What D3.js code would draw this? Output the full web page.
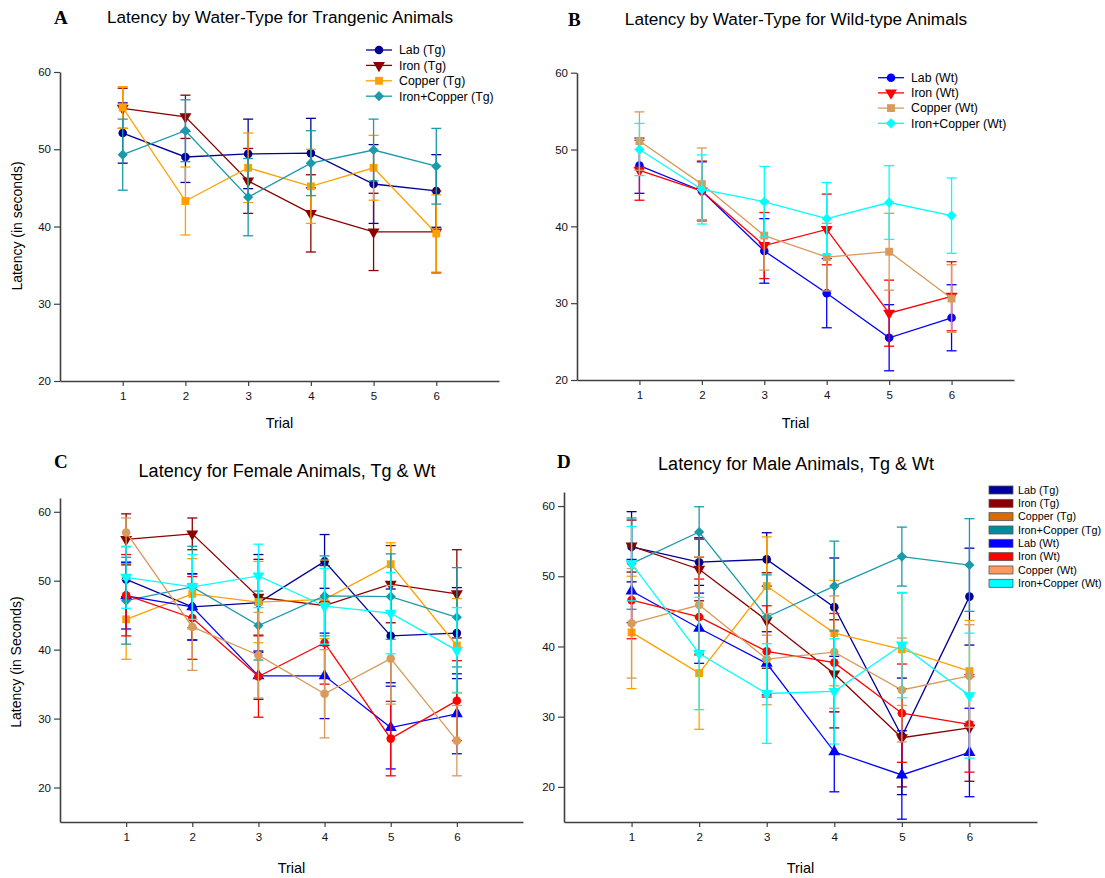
<!DOCTYPE html>
<html>
<head>
<meta charset="utf-8">
<script src="https://cdn.jsdelivr.net/npm/d3@7"></script>
<style>
  body { margin: 0; background: #fff; }
  svg text { font-family: "Liberation Sans", Arial, sans-serif; }
</style>
</head>
<body>
<div id="screen"></div>
<script>
var width = 1105;
var height = 878;

var trials = [1, 2, 3, 4, 5, 6];
var yTicks = [20, 30, 40, 50, 60];

// panel A - transgenic
var labTgA = [52.1, 49.0, 49.4, 49.5, 45.5, 44.6];
var labTgAErr = [3.9, 3.3, 4.5, 4.5, 5.1, 4.7];
var ironTgA = [55.3, 54.2, 45.9, 41.7, 39.3, 39.3];
var ironTgAErr = [2.6, 2.8, 4.2, 5.0, 5.0, 5.3];
var copperTgA = [55.4, 43.3, 47.6, 45.2, 47.6, 39.1];
var copperTgAErr = [2.7, 4.4, 4.5, 4.8, 4.2, 5.0];
var ironCopperTgA = [49.3, 52.4, 43.8, 48.2, 49.9, 47.8];
var ironCopperTgAErr = [4.6, 4.0, 5.0, 4.2, 4.0, 4.9];

// panel B - wild type
var labWtB = [47.9, 44.6, 36.8, 31.3, 25.5, 28.1];
var labWtBErr = [3.6, 3.8, 4.2, 4.5, 4.3, 4.3];
var ironWtB = [47.3, 44.6, 37.5, 39.6, 28.7, 30.9];
var ironWtBErr = [3.9, 3.9, 4.3, 4.6, 4.3, 4.5];
var copperWtB = [51.1, 45.5, 38.8, 36.0, 36.7, 30.6];
var copperWtBErr = [3.8, 4.7, 4.5, 4.4, 5.0, 4.4];
var ironCopperWtB = [50.0, 44.8, 43.2, 41.0, 43.1, 41.4];
var ironCopperWtBErr = [3.4, 4.5, 4.6, 4.7, 4.8, 4.9];

// panel C - female
var labTgC = [50.2, 46.2, 46.8, 52.8, 42.0, 42.4];
var labTgCErr = [2.5, 4.8, 7.0, 3.9, 6.8, 6.6];
var ironTgC = [56.0, 56.8, 47.6, 46.4, 49.5, 48.1];
var ironTgCErr = [3.7, 2.3, 5.5, 5.8, 5.6, 6.4];
var copperTgC = [44.4, 48.1, 46.9, 47.3, 52.4, 40.6];
var copperTgCErr = [5.8, 5.1, 5.9, 5.7, 3.1, 6.8];
var ironCopperTgC = [47.1, 49.1, 43.5, 47.8, 47.7, 44.7];
var ironCopperTgCErr = [6.3, 5.9, 5.0, 5.8, 6.2, 7.2];
var labWtC = [47.8, 46.2, 36.2, 36.2, 28.7, 30.7];
var labWtCErr = [4.8, 4.8, 3.4, 6.2, 6.0, 5.8];
var ironWtC = [47.9, 44.6, 36.1, 41.0, 27.1, 32.6];
var ironWtCErr = [5.9, 6.0, 5.9, 6.0, 5.4, 5.8];
var copperWtC = [57.0, 43.3, 39.2, 33.6, 38.7, 26.8];
var copperWtCErr = [2.1, 6.3, 6.2, 6.4, 6.6, 5.1];
var ironCopperWtC = [50.5, 49.1, 50.7, 46.3, 45.3, 39.9];
var ironCopperWtCErr = [4.5, 4.7, 4.6, 5.5, 5.9, 6.2];

// panel D - male
var labTgD = [54.2, 52.0, 52.4, 45.6, 27.2, 47.1];
var labTgDErr = [5.0, 3.3, 3.8, 7.0, 8.3, 6.9];
var ironTgD = [54.3, 51.0, 43.7, 36.1, 27.0, 28.4];
var ironTgDErr = [3.7, 4.5, 6.8, 7.7, 7.0, 7.6];
var copperTgD = [42.0, 36.2, 48.6, 41.9, 39.6, 36.5];
var copperTgDErr = [8.0, 8.0, 7.0, 7.5, 8.0, 7.2];
var ironCopperTgD = [51.8, 56.3, 44.2, 48.6, 52.8, 51.6];
var ironCopperTgDErr = [6.5, 3.6, 6.0, 6.4, 4.2, 6.6];
var labWtD = [47.9, 42.6, 37.6, 25.0, 21.7, 24.9];
var labWtDErr = [4.5, 5.0, 4.5, 5.7, 6.3, 6.3];
var ironWtD = [46.6, 44.2, 39.3, 37.7, 30.5, 28.9];
var ironWtDErr = [5.5, 5.4, 6.5, 7.0, 7.0, 6.8];
var copperWtD = [43.3, 45.9, 38.2, 39.2, 33.8, 35.8];
var copperWtDErr = [7.8, 6.9, 6.5, 8.0, 7.4, 7.3];
var ironCopperWtD = [51.8, 39.0, 33.3, 33.6, 40.2, 33.0];
var ironCopperWtDErr = [5.3, 8.0, 7.1, 7.5, 7.5, 8.9];

var legendNamesD = ["Lab (Tg)", "Iron (Tg)", "Copper (Tg)", "Iron+Copper (Tg)",
                    "Lab (Wt)", "Iron (Wt)", "Copper (Wt)", "Iron+Copper (Wt)"];
var legendFillsD = ["#00009c", "#8b0000", "#d86c00", "#008c9c",
                    "#0000ff", "#ff0000", "#ff9a5c", "#00ffff"];

// styles
var col = {
  labTg: "#000099", ironTg: "#8b0000", copperTg: "#ffa000", icTg: "#1a9aab",
  labWt: "#0000ff", ironWt: "#ff0000", copperWt: "#d99a5b", icWt: "#00ffff"
};

var svg = d3.select("#screen").append("svg")
  .attr("width", width).attr("height", height);

var symbolPath = function(shape){
  if(shape == "circle") return d3.symbol().type(d3.symbolCircle).size(58)();
  if(shape == "square") return d3.symbol().type(d3.symbolSquare).size(62)();
  if(shape == "diamond") return d3.symbol().type(d3.symbolSquare).size(52)();
  return d3.symbol().type(d3.symbolTriangle).size(62)();
};
var symbolRotate = function(shape){
  if(shape == "down") return 180;
  if(shape == "diamond") return 45;
  return 0;
};

var drawPanel = function(p){
  var g = svg.append("g");
  var x = d3.scaleLinear().domain([0, 7]).range([p.left, p.right]);
  var y = d3.scaleLinear().domain(p.yDomain).range([p.bottom, p.top]);

  var xAxis = d3.axisBottom(x).tickValues(trials).tickFormat(d3.format("d"))
    .tickSize(5).tickSizeOuter(0).tickPadding(6);
  var xa = g.append("g").attr("transform", "translate(0," + p.bottom + ")").call(xAxis);
  var yAxis = d3.axisLeft(y).tickValues(yTicks).tickFormat(d3.format("d"))
    .tickSize(6).tickSizeOuter(0).tickPadding(3);
  var ya = g.append("g").attr("transform", "translate(" + p.left + ",0)").call(yAxis);
  [xa, ya].forEach(function(a){
    a.select(".domain").attr("stroke", "#404040").attr("stroke-width", 1.6);
    a.selectAll(".tick line").attr("stroke", "#404040").attr("stroke-width", 1.2);
    a.selectAll(".tick text").attr("font-size", 11.5).attr("fill", "#111")
      .attr("font-family", "Liberation Sans, Arial, sans-serif");
  });

  // series
  p.series.forEach(function(s){
    var pts = trials.map(function(t, i){ return {t: t, v: s.values[i], e: s.err[i]}; });
    var line = d3.line().x(function(d){ return x(d.t); }).y(function(d){ return y(d.v); });
    g.append("path").datum(pts).attr("d", line)
      .attr("fill", "none").attr("stroke", s.color).attr("stroke-width", 1.3);
    var eb = g.append("g").attr("stroke", s.color).attr("stroke-width", 1.3);
    pts.forEach(function(d){
      var cx = x(d.t);
      eb.append("line").attr("x1", cx).attr("x2", cx).attr("y1", y(d.v - d.e)).attr("y2", y(d.v + d.e));
      eb.append("line").attr("x1", cx - 5).attr("x2", cx + 5).attr("y1", y(d.v + d.e)).attr("y2", y(d.v + d.e));
      eb.append("line").attr("x1", cx - 5).attr("x2", cx + 5).attr("y1", y(d.v - d.e)).attr("y2", y(d.v - d.e));
    });
    g.selectAll(null).data(pts).enter().append("path")
      .attr("d", symbolPath(s.shape))
      .attr("transform", function(d){
        return "translate(" + x(d.t) + "," + y(d.v) + ") rotate(" + symbolRotate(s.shape) + ")";
      })
      .attr("fill", s.color);
  });

  // titles
  g.append("text").attr("x", p.letterX).attr("y", p.letterY)
    .style("font-family", "Liberation Serif, Times New Roman, serif")
    .attr("font-weight", "bold").attr("font-size", 19).text(p.letter);
  g.append("text").attr("x", p.titleX).attr("y", p.titleY).attr("text-anchor", "middle")
    .attr("font-size", p.titleSize).text(p.title);
  g.append("text").attr("x", (p.left + p.right) / 2).attr("y", p.trialY).attr("text-anchor", "middle")
    .attr("font-size", 14.5).text("Trial");
  if(p.yLabel){
    g.append("text").attr("transform", "translate(" + p.yLabelX + "," + p.yLabelY + ") rotate(-90)")
      .attr("text-anchor", "middle").attr("font-size", 14).text(p.yLabel);
  }

  // legends
  if(p.legendType == "line"){
    p.series.forEach(function(s, i){
      var ly = p.legendY + i * p.legendStep;
      g.append("line").attr("x1", p.legendX).attr("x2", p.legendX + 26).attr("y1", ly).attr("y2", ly)
        .attr("stroke", s.color).attr("stroke-width", 1.3);
      g.append("path").attr("d", symbolPath(s.shape))
        .attr("transform", "translate(" + (p.legendX + 13) + "," + ly + ") rotate(" + symbolRotate(s.shape) + ")")
        .attr("fill", s.color);
      g.append("text").attr("x", p.legendX + 33).attr("y", ly + 4.3).attr("font-size", 12.3).text(s.name);
    });
  }
  if(p.legendType == "box"){
    legendNamesD.forEach(function(n, i){
      var ly = p.legendY + i * p.legendStep;
      g.append("rect").attr("x", p.legendX).attr("y", ly - 4).attr("width", 24).attr("height", 8)
        .attr("fill", legendFillsD[i]).attr("stroke", "#555").attr("stroke-width", 0.8);
      g.append("text").attr("x", p.legendX + 29).attr("y", ly + 3.8).attr("font-size", 10.8).text(n);
    });
  }
};

drawPanel({
  left: 60, right: 499, top: 72, bottom: 381, yDomain: [20, 60],
  letter: "A", letterX: 54, letterY: 24,
  title: "Latency by Water-Type for Trangenic Animals", titleX: 280, titleY: 23, titleSize: 17.2,
  trialY: 428, yLabel: "Latency (in seconds)", yLabelX: 22, yLabelY: 226,
  legendType: "line", legendX: 366, legendY: 50, legendStep: 15.4,
  series: [
    {name: "Lab (Tg)", values: labTgA, err: labTgAErr, color: col.labTg, shape: "circle"},
    {name: "Iron (Tg)", values: ironTgA, err: ironTgAErr, color: col.ironTg, shape: "down"},
    {name: "Copper (Tg)", values: copperTgA, err: copperTgAErr, color: col.copperTg, shape: "square"},
    {name: "Iron+Copper (Tg)", values: ironCopperTgA, err: ironCopperTgAErr, color: col.icTg, shape: "diamond"}
  ]
});

drawPanel({
  left: 577, right: 1014, top: 72.7, bottom: 380, yDomain: [20, 60],
  letter: "B", letterX: 568, letterY: 26,
  title: "Latency by Water-Type for Wild-type Animals", titleX: 796, titleY: 25, titleSize: 17.2,
  trialY: 428, yLabel: null,
  legendType: "line", legendX: 878, legendY: 77.7, legendStep: 15.2,
  series: [
    {name: "Lab (Wt)", values: labWtB, err: labWtBErr, color: col.labWt, shape: "circle"},
    {name: "Iron (Wt)", values: ironWtB, err: ironWtBErr, color: col.ironWt, shape: "down"},
    {name: "Copper (Wt)", values: copperWtB, err: copperWtBErr, color: col.copperWt, shape: "square"},
    {name: "Iron+Copper (Wt)", values: ironCopperWtB, err: ironCopperWtBErr, color: col.icWt, shape: "diamond"}
  ]
});

var seriesC = [
  {values: labTgC, err: labTgCErr, color: col.labTg, shape: "circle"},
  {values: ironTgC, err: ironTgCErr, color: col.ironTg, shape: "down"},
  {values: copperTgC, err: copperTgCErr, color: col.copperTg, shape: "square"},
  {values: ironCopperTgC, err: ironCopperTgCErr, color: col.icTg, shape: "diamond"},
  {values: labWtC, err: labWtCErr, color: col.labWt, shape: "up"},
  {values: ironWtC, err: ironWtCErr, color: col.ironWt, shape: "circle"},
  {values: copperWtC, err: copperWtCErr, color: col.copperWt, shape: "circle"},
  {values: ironCopperWtC, err: ironCopperWtCErr, color: col.icWt, shape: "down"}
];
drawPanel({
  left: 60, right: 523, top: 498, bottom: 822, yDomain: [15, 62],
  letter: "C", letterX: 54, letterY: 468,
  title: "Latency for Female Animals, Tg & Wt", titleX: 287, titleY: 477, titleSize: 18,
  trialY: 873, yLabel: "Latency (in Seconds)", yLabelX: 21, yLabelY: 662,
  legendType: "none",
  series: seriesC
});

var seriesD = [
  {values: labTgD, err: labTgDErr, color: col.labTg, shape: "circle"},
  {values: ironTgD, err: ironTgDErr, color: col.ironTg, shape: "down"},
  {values: copperTgD, err: copperTgDErr, color: col.copperTg, shape: "square"},
  {values: ironCopperTgD, err: ironCopperTgDErr, color: col.icTg, shape: "diamond"},
  {values: labWtD, err: labWtDErr, color: col.labWt, shape: "up"},
  {values: ironWtD, err: ironWtDErr, color: col.ironWt, shape: "circle"},
  {values: copperWtD, err: copperWtDErr, color: col.copperWt, shape: "circle"},
  {values: ironCopperWtD, err: ironCopperWtDErr, color: col.icWt, shape: "down"}
];
drawPanel({
  left: 564, right: 1037, top: 492, bottom: 822, yDomain: [15, 62],
  letter: "D", letterX: 557, letterY: 468,
  title: "Latency for Male Animals, Tg & Wt", titleX: 796, titleY: 470, titleSize: 18,
  trialY: 873, yLabel: null,
  legendType: "box", legendX: 989, legendY: 490, legendStep: 13.33,
  series: seriesD
});
</script>
</body>
</html>
